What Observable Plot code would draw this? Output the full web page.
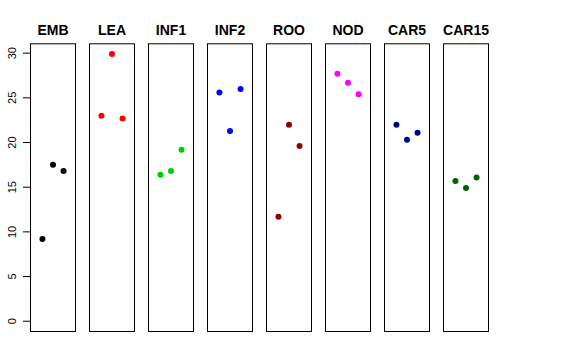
<!DOCTYPE html>
<html>
<head>
<meta charset="utf-8">
<script src="https://cdn.jsdelivr.net/npm/d3@7"></script>
<script src="https://cdn.jsdelivr.net/npm/@observablehq/plot@0.6"></script>
<style>
  html, body { margin: 0; padding: 0; background: white; }
</style>
</head>
<body>
<div id="chart"></div>
<script>
const groups = ["EMB", "LEA", "INF1", "INF2", "ROO", "NOD", "CAR5", "CAR15"];
const colors = ["#000000", "#FF0000", "#00CD00", "#0000FF", "#8B0000", "#FF00FF", "#00008B", "#006400"];
const rep1 = [9.2, 23.0, 16.4, 25.6, 11.7, 27.7, 22.0, 15.7];
const rep2 = [17.5, 29.9, 16.8, 21.3, 22.0, 26.7, 20.3, 14.9];
const rep3 = [16.8, 22.7, 19.2, 26.0, 19.6, 25.4, 21.1, 16.1];
const yTicks = [0, 5, 10, 15, 20, 25, 30];

const data = [];
groups.forEach((g, i) => {
  [rep1, rep2, rep3].forEach((rep, j) => {
    data.push({group: g, rep: j + 1, value: rep[i], color: colors[i]});
  });
});

const chart = Plot.plot({
  width: 576,
  height: 360,
  marginTop: 43.3,
  marginBottom: 29,
  marginLeft: 28.7,
  marginRight: 88,
  style: {fontFamily: "'Liberation Sans', Arial, Helvetica, sans-serif", fontSize: "11px", background: "white"},
  fx: {domain: groups, paddingInner: 0.245, paddingOuter: 0, align: 0.5, label: null, axis: null},
  x: {domain: [-0.13, 4.13], axis: null},
  y: {domain: [-1.15, 31.05], axis: null},
  color: {type: "identity"},
  marks: [
    Plot.frame({stroke: "black", strokeWidth: 1}),
    Plot.axisFx({anchor: "top", tickSize: 0, tickPadding: 9, fontSize: 14, fontWeight: "bold", label: null}),
    Plot.axisY({ticks: yTicks, tickSize: 7, tickPadding: 8, tickRotate: -90, fontSize: 11, label: null}),
    Plot.dot(data, {fx: "group", x: "rep", y: "value", fill: "color", r: 3, stroke: null})
  ]
});
document.getElementById("chart").appendChild(chart);
</script>
</body>
</html>
